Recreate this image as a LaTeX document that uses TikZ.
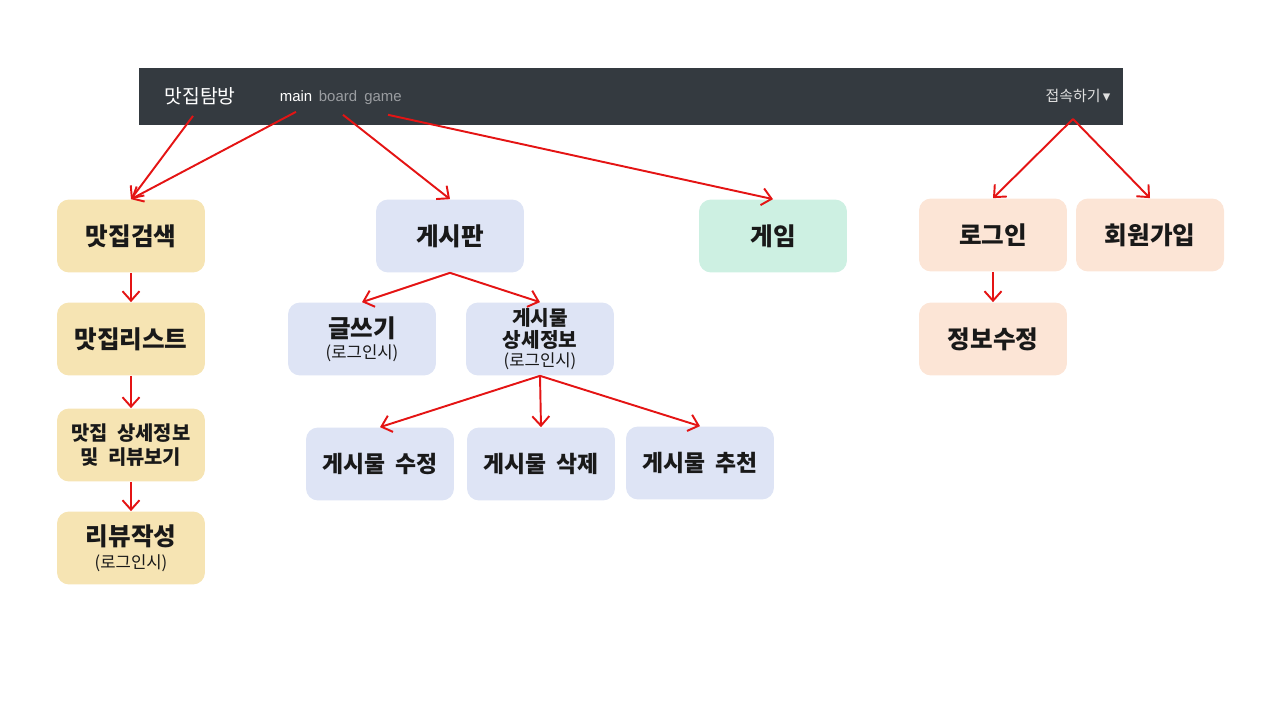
\documentclass[tikz,border=0pt]{standalone}
\usepackage{fontspec}
\setmainfont{Liberation Sans}
\newfontfamily\kr{Noto Sans CJK KR}
\newfontfamily\sym{DejaVu Sans}
\usetikzlibrary{arrows.meta}
\definecolor{navbg}{HTML}{343A40}
\definecolor{navgray}{HTML}{9A9DA1}
\definecolor{foodc}{HTML}{F6E4B3}
\definecolor{boardc}{HTML}{DEE4F5}
\definecolor{gamec}{HTML}{CDF0E2}
\definecolor{userc}{HTML}{FCE5D6}
\definecolor{linkred}{HTML}{E41414}
\tikzset{
	box/.style={rounded corners=2.4mm, minimum width=2.96cm,
		minimum height=1.46cm, align=center, inner sep=1pt,
		text=black!90, font=\kr\bfseries\fontsize{14}{16}\selectfont},
	food/.style={box, fill=foodc},
	brd/.style={box, fill=boardc},
	play/.style={box, fill=gamec},
	user/.style={box, fill=userc},
	menu/.style={anchor=base, font=\fontsize{8.5}{10}\selectfont},
	link/.style={->, draw=linkred, line width=1.1pt},
}
\newcommand{\login}{{\mdseries\fontsize{9.5}{11}\selectfont(로그인시)}}
\begin{document}
\begin{tikzpicture}[>={Straight Barb[length=1.9mm,width=3.4mm]},
		x=0.02cm, y=-0.02cm]
	\useasboundingbox (0,0) rectangle (1261,705);
	\node[fill=navbg, minimum width=19.68cm, minimum height=1.14cm,
		inner sep=0pt] (nav) at (631,96.5) {};
	\node[text=white, font=\kr\fontsize{11}{13}\selectfont]
		(brand) at (200,96) {맛집탐방};
	\node[menu, text=white] (main) at (296,101.5) {main};
	\node[menu, text=navgray] (board) at (338,101.5) {board};
	\node[menu, text=navgray] (game) at (383,101.5) {game};
	\node[text=white!88!black, font=\kr\fontsize{8.5}{10}\selectfont]
		(conn) at (1078,96) {접속하기{\sym\,▾}};

	\node[food] (search) at (131,236) {맛집검색};
	\node[food] (list) at (131,339) {맛집리스트};
	\node[food, font=\kr\bfseries\fontsize{11.3}{14}\selectfont]
		(info) at (131,445) {맛집~ 상세정보\\및~ 리뷰보기};
	\node[food] (review) at (131,548) {리뷰작성\\[-3pt]\login};

	\node[brd] (bbs) at (450,236) {게시판};
	\node[brd, font=\kr\bfseries\fontsize{14}{15}\selectfont]
		(write) at (362,339) {글쓰기\\[-3pt]\login};
	\node[brd, font=\kr\bfseries\fontsize{11.5}{12.5}\selectfont]
		(detail) at (540,339) {게시물\\상세정보\\[-2pt]\login};
	\node[brd, font=\kr\bfseries\fontsize{13}{14}\selectfont]
		(edit) at (380,464) {게시물~ 수정};
	\node[brd, font=\kr\bfseries\fontsize{13}{14}\selectfont]
		(delete) at (541,464) {게시물~ 삭제};
	\node[brd, font=\kr\bfseries\fontsize{13}{14}\selectfont]
		(like) at (700,463) {게시물~ 추천};

	\node[play] (gm) at (773,236) {게임};
	\node[user] (login) at (993,235) {로그인};
	\node[user] (join) at (1150,235) {회원가입};
	\node[user] (modify) at (993,339) {정보수정};

	\draw[link] ([xshift=-0.14cm,yshift=-0.1cm]brand.south) -- (search.north);
	\draw[link] ([yshift=-0.08cm]main.south) -- (search.north);
	\draw[link] ([xshift=0.1cm,yshift=-0.14cm]board.south) -- (bbs.north);
	\draw[link] ([xshift=0.1cm,yshift=-0.08cm]game.south) -- (gm.north);
	\draw[link] ([xshift=-0.1cm,yshift=-0.2cm]conn.south) -- (login.north);
	\draw[link] ([xshift=-0.1cm,yshift=-0.2cm]conn.south) -- (join.north);

	\draw[link] (search) -- (list);
	\draw[link] (list) -- (info);
	\draw[link] (info) -- (review);
	\draw[link] (login) -- (modify);

	\draw[link] (bbs.south) -- (write.north);
	\draw[link] (bbs.south) -- (detail.north);
	\draw[link] (detail.south) -- (edit.north);
	\draw[link] (detail.south) -- (delete.north);
	\draw[link] (detail.south) -- (like.north);
\end{tikzpicture}
\end{document}
